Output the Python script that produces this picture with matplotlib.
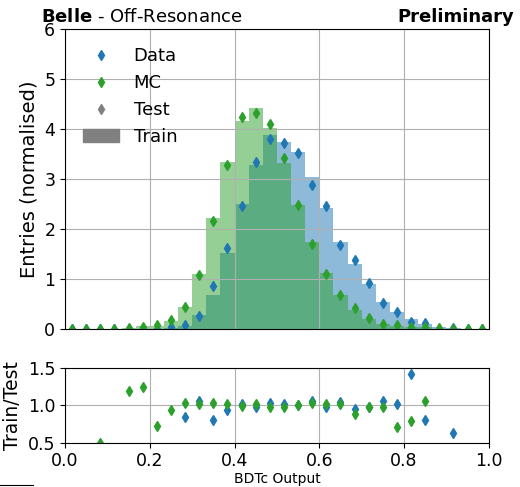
import numpy as np
import matplotlib.pyplot as plt
from matplotlib.lines import Line2D
from matplotlib.patches import Patch

# binning of the BDT output (30 bins between 0 and 1)
edges = np.linspace(0, 1, 31)
centres = 0.5 * (edges[:-1] + edges[1:])

# normalised histograms
data_train = [0, 0, 0, 0, 0, 0, 0, 0.02, 0.06, 0.28,
              0.68, 1.52, 2.50, 3.27, 3.87, 3.74, 3.54, 3.03, 2.41, 1.73,
              1.30, 0.89, 0.54, 0.34, 0.19, 0.09, 0.04, 0.01, 0, 0]
data_test = [0, 0, 0, 0, 0, 0, 0, 0.03, 0.07, 0.255,
             0.85, 1.62, 2.45, 3.33, 3.79, 3.71, 3.52, 2.87, 2.45, 1.67,
             1.37, 0.91, 0.51, 0.33, 0.13, 0.12, 0.0, 0.015, 0, 0]
mc_train = [0, 0, 0, 0, 0.024, 0.05, 0.05, 0.16, 0.44, 1.10,
            2.21, 3.33, 4.15, 4.41, 4.01, 3.32, 2.47, 1.74, 1.11, 0.68,
            0.37, 0.20, 0.10, 0.05, 0.03, 0.03, 0, 0, 0, 0]
mc_test = [0, 0, 0, 0, 0.02, 0.04, 0.07, 0.175, 0.43, 1.07,
           2.15, 3.27, 4.23, 4.32, 4.10, 3.42, 2.47, 1.69, 1.10, 0.67,
           0.42, 0.21, 0.10, 0.07, 0.04, 0.03, 0.01, 0, 0, 0]

# train/test ratios
nan = np.nan
data_ratio = [nan, nan, nan, nan, nan, nan, nan, nan, 0.836, 1.062,
              0.80, 0.93, 1.02, 0.975, 1.027, 1.018, 1.004, 1.053, 0.978, 1.044,
              0.95, 0.973, 1.058, 1.018, 1.416, 0.796, nan, 0.624, nan, nan]
mc_ratio = [nan, nan, 0.50, nan, 1.186, 1.24, 0.72, 0.934, 1.027, 1.022,
            1.027, 1.018, 0.985, 1.02, 0.975, 0.97, 1.0, 1.027, 1.013, 1.018,
            0.885, 0.97, 0.97, 0.71, 0.79, 1.062, nan, nan, nan, nan]

blue = "#1f77b4"
green = "#2ca02c"
ms = 5

fig = plt.figure(figsize=(5.2, 4.87), dpi=100)
ax = fig.add_axes([0.125, 0.325, 0.815, 0.6155])
axr = fig.add_axes([0.125, 0.091, 0.815, 0.154])

# top panel
ax.stairs(data_train, edges, fill=True, color=blue, alpha=0.5, linewidth=0)
ax.stairs(mc_train, edges, fill=True, color=green, alpha=0.5, linewidth=0)
ax.plot(centres, data_test, "d", color=blue, ms=ms, ls="none")
ax.plot(centres, mc_test, "d", color=green, ms=ms, ls="none")
ax.set_xlim(0, 1)
ax.set_ylim(0, 6)
ax.set_xticks([0, 0.2, 0.4, 0.6, 0.8, 1.0])
ax.tick_params(labelbottom=False, bottom=False, labelsize=12.5)
ax.set_ylabel("Entries (normalised)", fontsize=14)
ax.grid(True)

handles = [Line2D([], [], marker="d", ls="none", color=blue, ms=ms, label="Data"),
           Line2D([], [], marker="d", ls="none", color=green, ms=ms, label="MC"),
           Line2D([], [], marker="d", ls="none", color="gray", ms=ms, label="Test"),
           Patch(color="gray", label="Train")]
ax.legend(handles=handles, loc="upper left", frameon=False, fontsize=13,
          borderaxespad=0.6)

# ratio panel
axr.plot(centres, data_ratio, "d", color=blue, ms=ms, ls="none")
axr.plot(centres, mc_ratio, "d", color=green, ms=ms, ls="none")
axr.set_xlim(0, 1)
axr.set_ylim(0.5, 1.5)
axr.set_xticks([0, 0.2, 0.4, 0.6, 0.8, 1.0])
axr.set_yticks([0.5, 1.0, 1.5])
axr.tick_params(labelsize=12.5)
axr.set_ylabel("Train/Test", fontsize=13.5)
axr.set_xlabel("BDTc Output", fontsize=10, labelpad=1)
axr.grid(True)

fig.text(41 / 520, 1 - 22 / 487, r"$\bf{Belle}$ - Off-Resonance", fontsize=13)
fig.text(514 / 520, 1 - 22 / 487, "Preliminary", fontsize=13,
         fontweight="bold", ha="right")

fig.add_artist(Line2D([0, 33 / 520], [1 - 485 / 487] * 2, color="black", lw=0.8))

fig.savefig("out.png", dpi=100)
